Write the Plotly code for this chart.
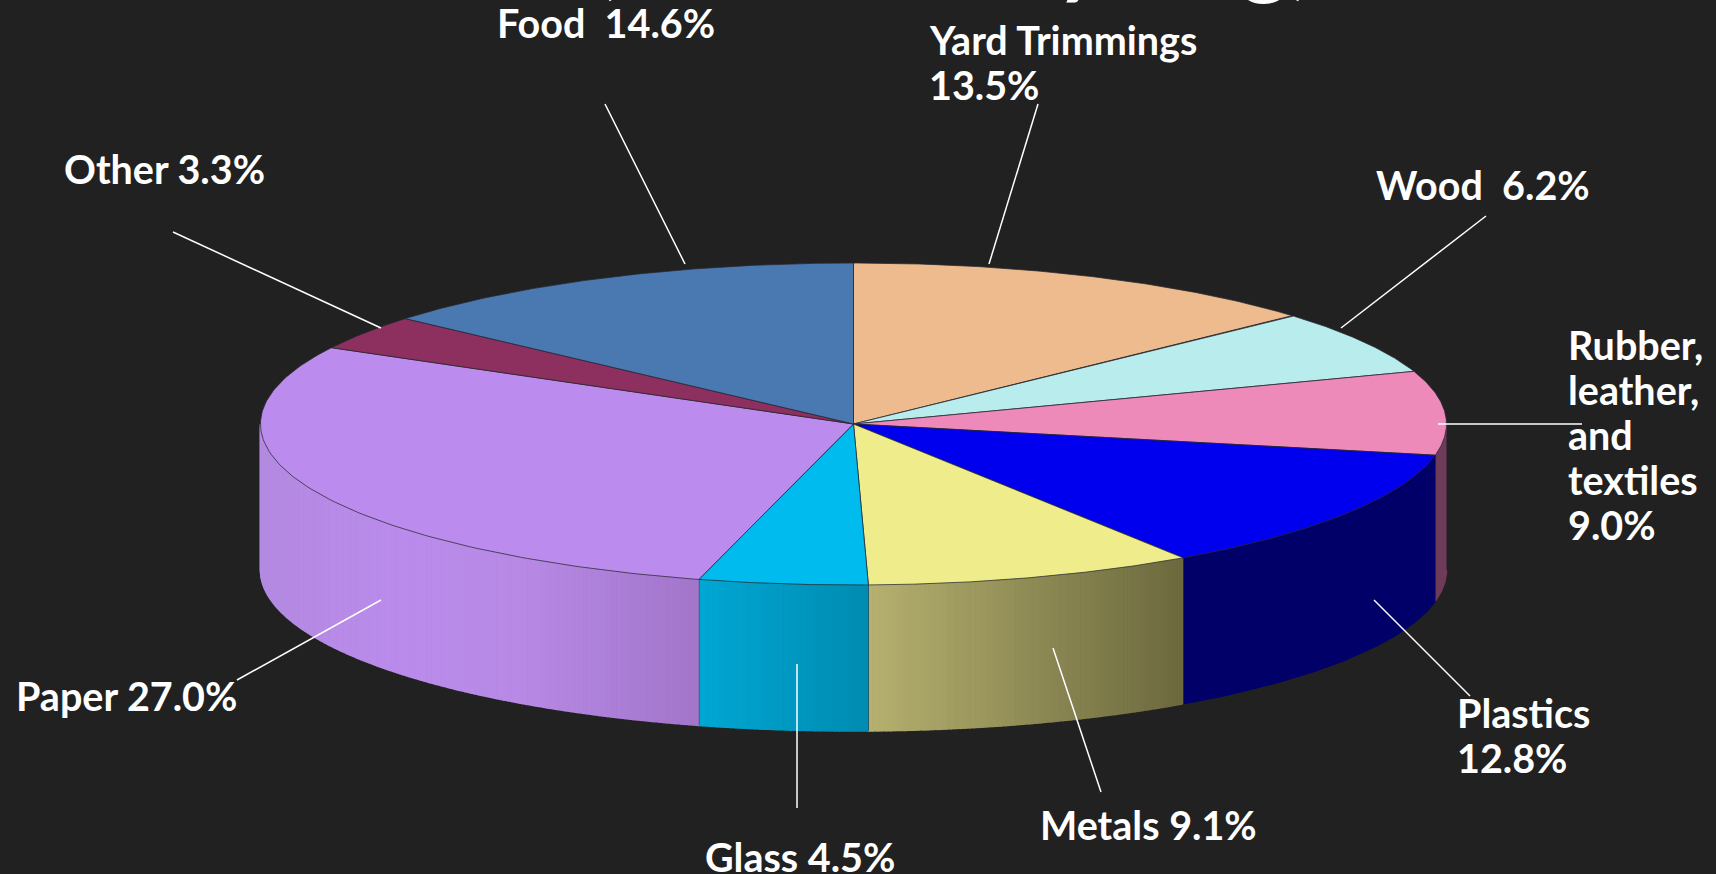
import numpy as np
import plotly.graph_objects as go

# ---- data ----
categories = ["Yard Trimmings", "Wood", "Rubber, leather, and textiles", "Plastics",
              "Metals", "Glass", "Paper", "Other", "Food"]
label_values = [13.5, 6.2, 9.0, 12.8, 9.1, 4.5, 27.0, 3.3, 14.6]
# share of the circle each slice visibly takes in the drawing
drawn_shares = [13.25, 6.45, 8.4, 12.52, 8.98, 4.6, 28.66, 3.5, 13.64]
top_colors = ["#EDBB8D", "#B9ECEC", "#EE8ABA", "#0000EE", "#EEEC8B",
              "#00BBEE", "#BB8CEE", "#8D2F5F", "#4A78B0"]
label_lines = [["Yard Trimmings", "13.5%"], ["Wood  6.2%"], ["Rubber,", "leather,", "and", "textiles", "9.0%"],
               ["Plastics", "12.8%"], ["Metals 9.1%"], ["Glass 4.5%"], ["Paper 27.0%"], ["Other 3.3%"], ["Food  14.6%"]]

# ---- layout ----
W, H = 1716, 874
CX, CY, RX, RY, DEPTH = 853.5, 424, 593, 161, 146
BG = "#212121"
FONT = "Lato"
FS = 39.5
LINE_STEP = 45
label_pos = [(927, 39), (1374, 184), (1566, 344), (1455, 712), (1038, 824),
             (703, 856), (14, 695), (62, 168), (495, 22)]
leaders = [((1038, 104), (989, 264)), ((1486, 216), (1341, 328)), ((1438, 424), (1582, 424)),
           ((1374, 600), (1470, 696)), ((1053, 648), (1101, 792)), ((797, 664), (797, 808)),
           ((381, 600), (237, 680)), ((173, 232), (381, 328)), ((605, 104), (685, 264))]
# side-wall shading: (screen x, rgb) stops
side_stops = {
    "Paper": [(260, (180, 138, 226)), (400, (187, 140, 236)), (520, (184, 138, 230)), (698, (163, 118, 203))],
    "Glass": [(698, (0, 168, 212)), (868, (0, 140, 178))],
    "Metals": [(868, (182, 177, 112)), (1184, (108, 105, 62))],
    "Plastics": [(1184, (0, 0, 104)), (1438, (0, 0, 104))],
    "Rubber, leather, and textiles": [(1438, (110, 60, 88)), (1448, (110, 60, 88))],
}


def shade(name, x):
    stops = side_stops[name]
    xs = [s[0] for s in stops]
    return "rgb(%d,%d,%d)" % tuple(np.interp(x, xs, [s[1][i] for s in stops]) for i in range(3))


fig = go.Figure()
edges = np.cumsum([0] + drawn_shares) / sum(drawn_shares) * 2 * np.pi
ex = lambda a: CX + RX * np.sin(a)
ey = lambda a: CY - RY * np.cos(a)

# side walls, as thin strips so that the shade runs across them
for name, a0, a1 in zip(categories, edges[:-1], edges[1:]):
    if name not in side_stops:
        continue
    lo, hi = max(a0, 0.5 * np.pi), min(a1, 1.5 * np.pi)
    flat = side_stops[name][0][1] == side_stops[name][-1][1]
    cuts = np.linspace(lo, hi, 2 if flat else max(2, int((hi - lo) * 130)))
    for s0, s1 in zip(cuts[:-1], cuts[1:]):
        t = np.linspace(s0, s1, 60 if flat else 4)
        xs = np.r_[ex(t), ex(t[::-1])]
        ys = np.r_[ey(t), ey(t[::-1]) + DEPTH]
        c = shade(name, ex((s0 + s1) / 2))
        fig.add_trace(go.Scatter(x=xs, y=ys, mode="lines", fill="toself", fillcolor=c,
                                 line=dict(color=c, width=1.5), hoverinfo="skip", showlegend=False))
    if hi < 1.5 * np.pi:
        fig.add_trace(go.Scatter(x=[ex(hi)] * 2, y=[ey(hi), ey(hi) + DEPTH], mode="lines",
                                 line=dict(color="rgb(45,45,60)", width=1),
                                 hoverinfo="skip", showlegend=False))

# top face
for name, a0, a1, c in zip(categories, edges[:-1], edges[1:], top_colors):
    t = np.linspace(a0, a1, 120)
    fig.add_trace(go.Scatter(x=np.r_[CX, ex(t), CX], y=np.r_[CY, ey(t), CY], mode="lines", fill="toself",
                             fillcolor=c, line=dict(color="rgba(40,40,50,0.75)", width=1),
                             name=name, hoverinfo="name", showlegend=False))

# leader lines
for (p0, p1) in leaders:
    fig.add_trace(go.Scatter(x=[p0[0], p1[0]], y=[p0[1], p1[1]], mode="lines",
                             line=dict(color="white", width=1.5), hoverinfo="skip", showlegend=False))

for lines, (x, y) in zip(label_lines, label_pos):
    for i, txt in enumerate(lines):
        fig.add_annotation(x=x, y=y + i * LINE_STEP, text="<b>%s</b>" % txt, showarrow=False,
                           xanchor="left", yanchor="middle", align="left",
                           font=dict(family=FONT, size=FS, color="white"))

# title of the slide, of which only the descenders are inside the picture
fig.add_annotation(xref="x", yref="paper", x=953.5, y=1 + 48 / H, text="<b>(Before Recycling)</b>", showarrow=False,
                   xanchor="center", yanchor="middle", font=dict(family=FONT, size=90, color="white"))

fig.update_layout(width=W, height=H, margin=dict(l=0, r=0, t=0, b=0), paper_bgcolor=BG, plot_bgcolor=BG,
                  xaxis=dict(range=[0, W], visible=False, fixedrange=True),
                  yaxis=dict(range=[H, 0], visible=False, fixedrange=True))
fig.write_html("out.html", config={"displayModeBar": False},
               post_script="document.body.style.margin='0';document.body.style.background='%s';"
                           "document.documentElement.style.overflow='hidden';" % BG)
